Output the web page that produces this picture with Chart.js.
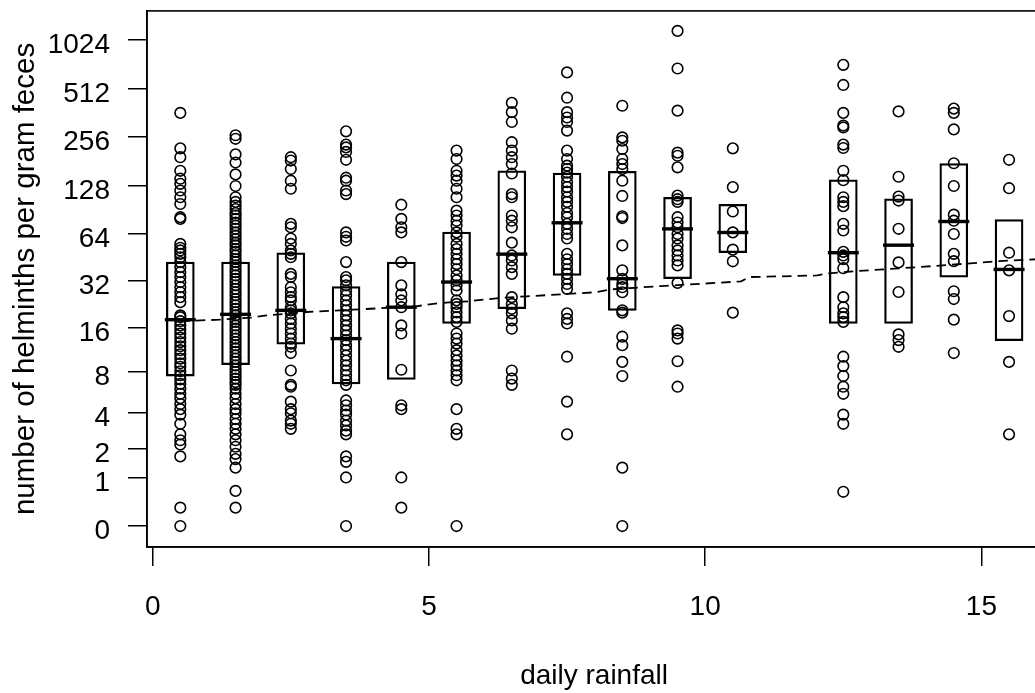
<!DOCTYPE html>
<html>
<head>
<meta charset="utf-8">
<script src="https://cdn.jsdelivr.net/npm/chart.js@4.4.1/dist/chart.umd.min.js"></script>
<style>
  html, body { margin: 0; padding: 0; background: #fff; overflow: hidden; }
  #wrap { width: 1060px; height: 701px; margin-top: -8px; }
</style>
</head>
<body>
<div id="wrap"><canvas id="plot" width="1060" height="701"></canvas></div>
<script>
// rainfall bins (centre of each bin)
const rainfall = [0.5, 1.5, 2.5, 3.5, 4.5, 5.5, 6.5, 7.5, 8.5, 9.5, 10.5, 12.5, 13.5, 14.5, 15.5];

// helminths per gram feces, one array per bin
const r00 = [362, 218, 192, 158, 141, 131, 119, 108, 98, 81, 79, 55, 52, 50, 47.6, 45.3, 42.2, 39.2, 36.4, 33.9, 31.5, 29.2, 27.1, 25.2, 23.4, 19.2, 18.7, 17.6, 16.5, 15.5, 14.6, 13.7, 12.8, 12, 11.3, 10.6, 9.9, 9.2, 8.7, 8.1, 7.6, 7.1, 6.6, 6.1, 5.6, 5.2, 4.7, 4.3, 3.9, 3.3, 2.7, 2.4, 2.2, 1.7, 0.3, 0];
const r01 = [263, 250, 200, 178, 150, 127, 108, 101, 95.8, 91, 86, 83, 79, 75, 71.8, 68.5, 65, 62, 59, 56, 53.8, 51, 49, 46.5, 44, 42.2, 40.2, 38, 36.4, 34.7, 33, 31.5, 30, 28.5, 27.1, 25.9, 24.5, 23.4, 22.3, 21.2, 20.1, 19.2, 18.2, 17.4, 16.5, 15.7, 15, 14.2, 13.5, 12.8, 12.2, 11.6, 11, 10.4, 9.9, 9.4, 8.9, 8.4, 8.0, 7.6, 7.2, 6.8, 6.5, 6.1, 5.6, 5.2, 4.7, 4.3, 4.0, 3.6, 3.3, 3.0, 2.7, 2.4, 2.1, 1.8, 1.6, 1.3, 0.65, 0.3];
const r02 = [192, 183, 162, 137, 122, 73.6, 70, 59.5, 55, 50, 47.6, 45.3, 35.5, 33.9, 29.2, 27.1, 25.2, 24, 21.7, 20.7, 19.8, 18.2, 17, 15.7, 14.6, 13.5, 12.5, 11.9, 10.8, 8.2, 6.5, 6.3, 4.9, 4.3, 4.0, 3.5, 3.3, 3.0];
const r03 = [278, 230, 221, 207, 185, 143, 137, 119, 113, 65, 61, 57.8, 42.2, 33.9, 32.3, 30, 27.8, 25.9, 24, 22.3, 20.7, 19.2, 17.8, 16.5, 15.3, 14.2, 13.2, 12.2, 11.3, 10.4, 9.6, 8.9, 8.2, 7.6, 7.0, 6.5, 5.0, 4.6, 4.2, 3.9, 3.5, 3.2, 2.9, 2.7, 1.7, 1.5, 1.0, 0];
const r04 = [97, 79, 70, 65, 42.2, 30, 26.3, 24, 21.7, 16.5, 14.6, 8.3, 4.6, 4.3, 1.0, 0.3];
const r05 = [211, 187, 158, 147.5, 137, 122, 108, 89, 83, 77, 71.8, 65, 61, 55, 51, 47.6, 44, 41, 38, 34.7, 32.3, 30, 27.8, 24, 22.8, 21.7, 20.1, 18.7, 17.4, 14.6, 13.5, 12.5, 11.3, 10.4, 9.6, 8.9, 8.2, 7.6, 7.0, 4.3, 3.0, 2.7, 0];
const r06 = [418, 366, 318, 238, 211, 192, 174, 152, 113, 108, 83, 77, 70, 56, 46.5, 43.2, 39.2, 35.5, 25.2, 22.8, 21.2, 19.8, 17.8, 15.7, 8.2, 7.2, 6.5];
const r07 = [646, 450, 366, 339, 318, 281, 211, 187, 170, 162, 154, 145, 134, 125, 117, 108, 101, 94, 86, 81, 73.6, 68.5, 63.5, 59.5, 47.6, 44, 41, 38, 35.5, 33, 30.6, 28.5, 19.8, 18.2, 17, 10.2, 4.9, 2.7];
const r08 = [401, 255, 243, 216, 187, 174, 162, 137, 110, 82, 80, 53.8, 37.4, 33, 30.6, 29.2, 27.1, 20.7, 20, 13.9, 12.2, 9.4, 7.5, 1.3, 0];
const r09 = [1169, 683, 374, 205, 196, 166, 110.6, 105, 101, 81, 75, 70, 63.5, 59.5, 53.8, 50, 46.5, 43.2, 40.2, 31.1, 15.3, 14.6, 13.5, 9.5, 6.3];
const r10 = [218, 125, 88, 65, 50.6, 42.7, 20];
const r12 = [720, 540, 362, 302, 294, 230, 219, 158, 138, 108, 101, 95, 73.6, 66.8, 49, 46.5, 44, 38.6, 25.2, 21.7, 19.8, 18.7, 17.4, 10.2, 8.8, 7.5, 6.3, 5.6, 3.9, 3.3, 0.63];
const r13 = [370, 145, 109, 103, 68.5, 42, 27.2, 14.4, 13.2, 11.9];
const r14 = [385, 362, 286, 176, 127, 84, 77, 63.5, 47.6, 42.8, 27.5, 24.5, 18, 10.8];
const r15 = [185, 123, 48.4, 37.4, 19, 9.4, 2.7];
const binCounts = [r00, r01, r02, r03, r04, r05, r06, r07, r08, r09, r10, r12, r13, r14, r15];

// quartile boxes per bin
const boxLow  = [7.5, 9.0, 12.4, 6.6, 7.1, 17.0, 21.2, 34.7, 20.7, 33.1, 48.4, 17.0, 17.0, 33.9, 13.1];
const boxMid  = [18.0, 19.5, 20.7, 13.5, 21.7, 31.5, 47.4, 74.7, 33.1, 68.4, 64.9, 48.4, 54.0, 76.1, 37.9];
const boxHigh = [42.2, 42.2, 48.4, 29.5, 42.2, 65.2, 158, 153, 156.7, 107.9, 97.6, 138.6, 105.5, 175, 78.3];

// fitted trend
const trendRain  = [0.5, 1.21, 1.81, 2.06, 2.79, 3.62, 4.77, 5.19, 5.71, 6.34, 6.76, 8.02, 8.31, 9.21, 9.91, 10.65, 10.8, 12.03, 12.17, 12.73, 13.85, 14.7, 15.33, 16.0];
const trendCount = [17.6, 18.0, 18.6, 19.2, 20.2, 20.9, 22.0, 23.1, 23.7, 25.0, 25.5, 27.1, 28.3, 29.7, 30.7, 31.8, 33.9, 34.7, 35.6, 37.0, 39.2, 41.2, 42.8, 44.0];

const xTicks = [0, 5, 10, 15];
const yTickLabels = [0, 1, 2, 4, 8, 16, 32, 64, 128, 256, 512, 1024];

// axis is log2(count + 1)
const tr = v => Math.log2(v + 1);

Chart.defaults.font.family = '"Liberation Sans", Arial, Helvetica, sans-serif';
Chart.defaults.color = '#000';

const points = [];
binCounts.forEach((vals, i) => {
  vals.forEach(v => points.push({ x: rainfall[i], y: tr(v) }));
});

const frame = {
  id: 'frame',
  afterDraw(chart) {
    const a = chart.chartArea, ctx = chart.ctx;
    ctx.save();
    ctx.strokeStyle = '#000';
    ctx.lineWidth = 1.6;
    ctx.strokeRect(a.left, a.top, a.right - a.left, a.bottom - a.top);
    ctx.restore();
  }
};

new Chart(document.getElementById('plot'), {
  type: 'scatter',
  data: {
    datasets: [
      {
        type: 'line',
        data: trendRain.map((x, i) => ({ x: x, y: tr(trendCount[i]) })),
        borderColor: '#000',
        borderWidth: 1.8,
        borderDash: [9.5, 6],
        pointRadius: 0,
        fill: false,
        tension: 0
      },
      {
        type: 'scatter',
        data: rainfall.map((x, i) => ({ x: x, y: tr(boxMid[i]) })),
        pointStyle: 'line',
        pointRadius: 15.5,
        pointBorderWidth: 3.4,
        pointBorderColor: '#000'
      },
      {
        type: 'bar',
        data: rainfall.map((x, i) => ({ x: x, y: [tr(boxLow[i]), tr(boxHigh[i])] })),
        barThickness: 28,
        borderWidth: 1.6,
        borderColor: '#000',
        backgroundColor: 'rgba(0,0,0,0)',
        borderSkipped: false
      },
      {
        type: 'scatter',
        data: points,
        pointStyle: 'circle',
        pointRadius: 5.3,
        pointBorderWidth: 1.6,
        pointBorderColor: '#000',
        pointBackgroundColor: 'rgba(0,0,0,0)'
      }
    ]
  },
  options: {
    responsive: false,
    animation: false,
    events: [],
    layout: { padding: { top: 0, right: 16, left: 0, bottom: 0 } },
    plugins: { legend: { display: false }, tooltip: { enabled: false } },
    scales: {
      x: {
        type: 'linear',
        min: -0.103,
        max: 16.08,
        offset: false,
        afterFit: s => { s.height = 146; s.paddingLeft = 0; s.paddingRight = 0; },
        afterBuildTicks: s => { s.ticks = xTicks.map(v => ({ value: v })); },
        grid: { drawOnChartArea: false, offset: false, tickLength: 19, color: '#000', lineWidth: 1.5 },
        border: { color: '#000', width: 1.6 },
        ticks: { color: '#000', font: { size: 28 }, padding: 24, maxRotation: 0, minRotation: 0, autoSkip: false },
        title: { display: true, text: 'daily rainfall', color: '#000', font: { size: 28 }, padding: { top: 0, bottom: 0 } }
      },
      y: {
        type: 'linear',
        min: -0.4316,
        max: 10.604,
        afterFit: s => { s.width = 147; s.paddingTop = 0; s.paddingBottom = 0; },
        afterBuildTicks: s => { s.ticks = yTickLabels.map(v => ({ value: tr(v) })); },
        grid: { drawOnChartArea: false, tickLength: 19, color: '#000', lineWidth: 1.5 },
        border: { color: '#000', width: 1.6 },
        ticks: {
          color: '#000',
          font: { size: 28 },
          padding: 18,
          labelOffset: 5.5,
          autoSkip: false,
          callback: (v, i) => String(yTickLabels[i])
        },
        title: { display: true, text: 'number of helminths per gram feces', color: '#000', font: { size: 29.5 }, padding: { top: 8, bottom: 0 } }
      }
    }
  },
  plugins: [frame]
});
</script>
</body>
</html>
